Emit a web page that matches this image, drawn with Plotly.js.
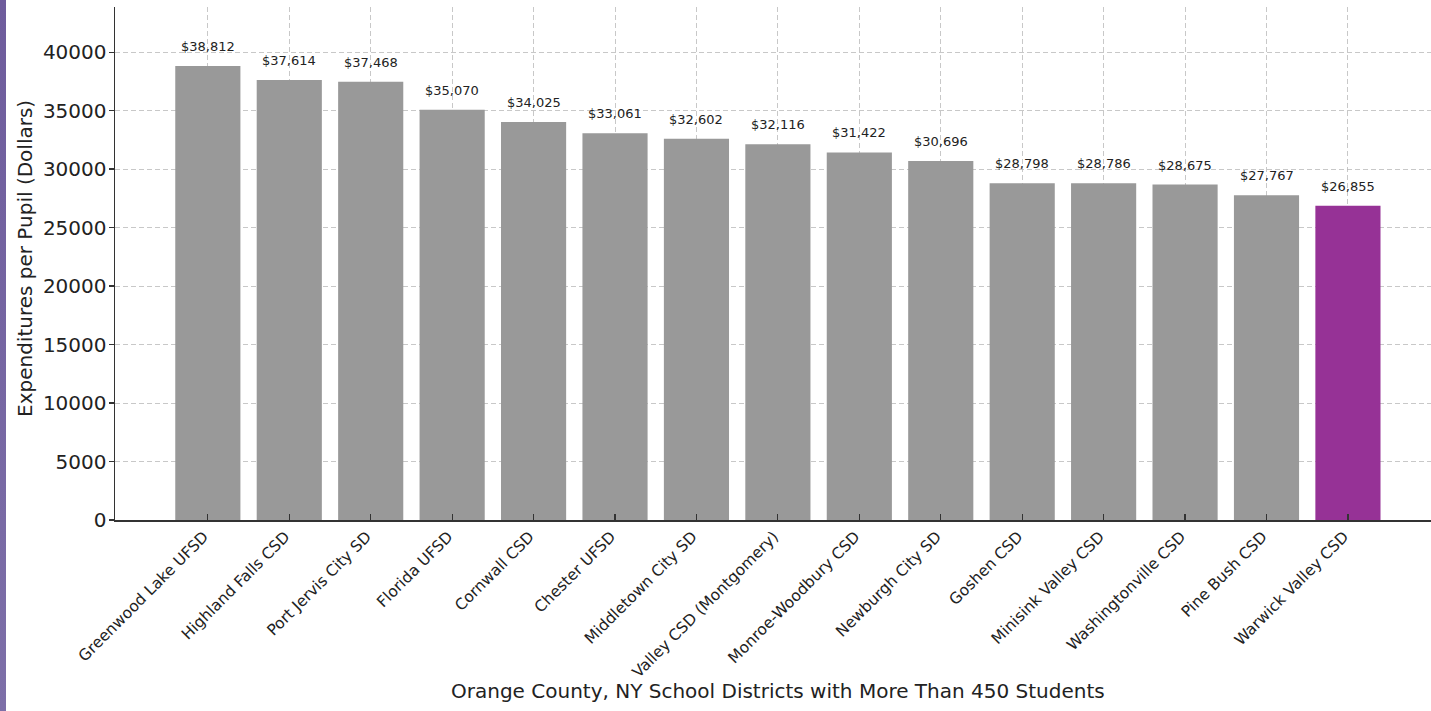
<!DOCTYPE html>
<html>
<head>
<meta charset="utf-8">
<script src="https://cdn.plot.ly/plotly-3.0.1.min.js"></script>
<style>
  html, body { margin: 0; padding: 0; background: #ffffff; }
  #wrap { position: relative; width: 1431px; height: 711px; overflow: hidden; }
  #chart { width: 1431px; height: 711px; }
  #edge { position: absolute; left: 0; top: 0; width: 6px; height: 711px;
          background: linear-gradient(#6e5c9c, #7d6fa8); z-index: 5; }
</style>
</head>
<body>
<div id="wrap">
  <div id="edge"></div>
  <div id="chart"></div>
</div>
<script>
// Per-pupil expenditures for Orange County, NY school districts (> 450 students)
const districts = [
  "Greenwood Lake UFSD", "Highland Falls CSD", "Port Jervis City SD", "Florida UFSD",
  "Cornwall CSD", "Chester UFSD", "Middletown City SD", "Valley CSD (Montgomery)",
  "Monroe-Woodbury CSD", "Newburgh City SD", "Goshen CSD", "Minisink Valley CSD",
  "Washingtonville CSD", "Pine Bush CSD", "Warwick Valley CSD"
];
const expenditures = [
  38812, 37614, 37468, 35070, 34025, 33061, 32602, 32116,
  31422, 30696, 28798, 28786, 28675, 27767, 26855
];
const highlighted = "Warwick Valley CSD";
const yTicks = [0, 5000, 10000, 15000, 20000, 25000, 30000, 35000, 40000];
const xTitle = "Orange County, NY School Districts with More Than 450 Students";
const yTitle = "Expenditures per Pupil (Dollars)";

const FONT = "DejaVu Sans, Verdana, sans-serif";
const INK = "#222222";
const idx = districts.map((_, i) => i);
const barColors = districts.map(d => d === highlighted ? "#963296" : "#999999");

const bars = {
  type: "bar",
  x: idx,
  y: expenditures,
  width: 0.8,
  marker: { color: barColors, line: { width: 0 } },
  hoverinfo: "x+y"
};

// dollar value printed above each bar
const valueLabels = expenditures.map((v, i) => ({
  x: i, y: v, xref: "x", yref: "y",
  text: "$" + v.toLocaleString("en-US"),
  showarrow: false, yanchor: "bottom", yshift: 10,
  font: { family: FONT, size: 13, color: INK }
}));

// axis titles, placed as paper-anchored annotations
const titles = [
  { text: xTitle, xref: "paper", yref: "paper", x: 0.5038, y: -0.333,
    xanchor: "center", yanchor: "middle", showarrow: false,
    font: { family: FONT, size: 20, color: INK } },
  { text: yTitle, xref: "paper", yref: "paper", x: -0.0684, y: 0.5107,
    xanchor: "center", yanchor: "middle", textangle: -90, showarrow: false,
    font: { family: FONT, size: 20, color: INK } }
];

const gridStyle = {
  showgrid: true, gridcolor: "rgba(176,176,176,0.7)", griddash: "5px,3px", gridwidth: 1
};

const layout = {
  width: 1431, height: 711,
  margin: { l: 115, r: 0, t: 7, b: 191 },
  paper_bgcolor: "#ffffff", plot_bgcolor: "#ffffff",
  showlegend: false,
  font: { family: FONT, color: INK },
  xaxis: Object.assign({
    range: [-1.14, 15.02],
    tickmode: "array", tickvals: idx, ticktext: districts,
    tickangle: -45,
    tickfont: { family: FONT, size: 15.5, color: INK },
    ticks: "inside", ticklen: 6, tickcolor: "#333333", tickwidth: 1.2,
    ticklabelshift: -4,
    showline: true, linecolor: "#333333", linewidth: 1.5,
    zeroline: false, layer: "above traces", automargin: false
  }, gridStyle),
  yaxis: Object.assign({
    range: [0, 43857],
    tickmode: "array", tickvals: yTicks, ticktext: yTicks.map(String),
    tickfont: { family: FONT, size: 20, color: INK },
    ticks: "outside", ticklen: 5, tickcolor: "#333333", tickwidth: 1.2,
    ticklabelstandoff: -2,
    showline: true, linecolor: "#333333", linewidth: 1.5,
    zeroline: false, layer: "above traces", automargin: false
  }, gridStyle),
  annotations: valueLabels.concat(titles)
};

Plotly.newPlot("chart", [bars], layout, { displayModeBar: false, staticPlot: true });
</script>
</body>
</html>
